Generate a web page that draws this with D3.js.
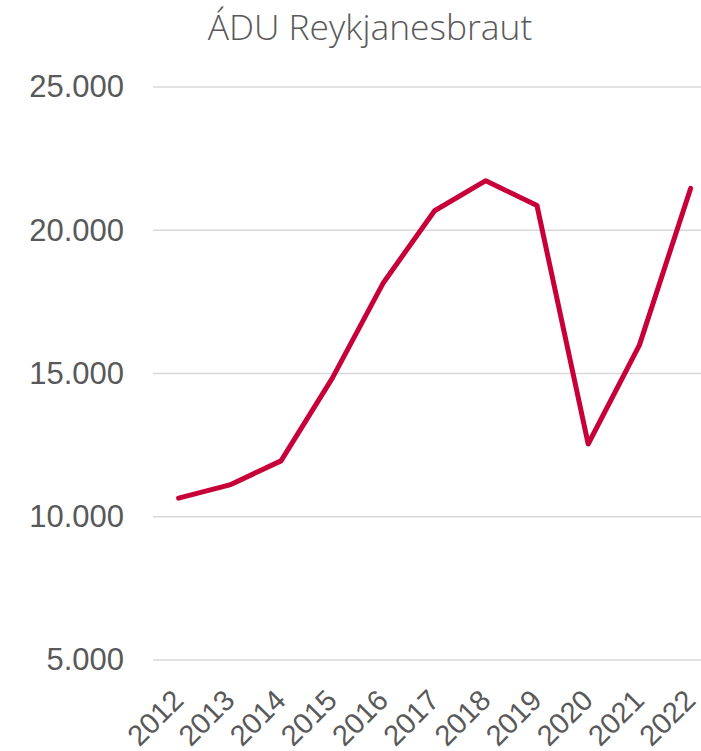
<!DOCTYPE html>
<html lang="is">
<head>
  <meta charset="UTF-8">
  <title>ÁDU Reykjanesbraut</title>
  <script src="https://d3js.org/d3.v7.min.js"></script>
  <style>
    body {
      margin: 0;
      background: #fff;
    }
    .grid line {
      stroke: #d9d9d9;
      stroke-width: 1.5px;
    }
    .axis text {
      font-family: "Liberation Sans", Arial, sans-serif;
      fill: #595959;
    }
    .axis path, .axis line {
      display: none;
    }
  </style>
</head>
<body>
  <div id="chart"></div>

  <script>
    // ÁDU = average daily traffic
    const years = ["2012", "2013", "2014", "2015", "2016", "2017", "2018", "2019", "2020", "2021", "2022"];
    const traffic = [10650, 11110, 11950, 14830, 18170, 20680, 21730, 20860, 12540, 15990, 21460];
    const yTicks = [5000, 10000, 15000, 20000, 25000];
    const chartTitle = "ÁDU Reykjanesbraut";

    const width = 701;
    const height = 751;
    const plotLeft = 153;
    const step = 51.2;
    const plotTop = 87;
    const plotBottom = 660;

    const svg = d3.select("#chart")
      .append("svg")
      .attr("width", width)
      .attr("height", height);

    const x = d3.scalePoint()
      .domain(years)
      .range([plotLeft + step / 2, plotLeft + step * (years.length - 0.5)]);

    const y = d3.scaleLinear()
      .domain([5000, 25000])
      .range([plotBottom, plotTop]);

    // gridlines
    svg.append("g")
      .attr("class", "grid")
      .selectAll("line")
      .data(yTicks)
      .enter()
      .append("line")
      .attr("x1", plotLeft)
      .attr("x2", width)
      .attr("y1", d => y(d))
      .attr("y2", d => y(d));

    // y axis, Icelandic thousands separator
    const fmt = d3.formatLocale({ decimal: ",", thousands: ".", grouping: [3], currency: ["", " kr."] }).format(",.0f");

    svg.append("g")
      .attr("class", "axis")
      .attr("transform", `translate(${plotLeft},0)`)
      .call(d3.axisLeft(y).tickValues(yTicks).tickSize(0).tickPadding(29).tickFormat(fmt))
      .selectAll("text")
      .style("font-size", "31px");

    // x axis with rotated labels
    svg.append("g")
      .attr("class", "axis")
      .attr("transform", `translate(0,${plotBottom})`)
      .call(d3.axisBottom(x).tickSize(0))
      .selectAll("text")
      .style("font-size", "29px")
      .attr("x", 0)
      .attr("y", 0)
      .attr("dy", 0)
      .attr("text-anchor", "end")
      .attr("transform", "translate(6,42) rotate(-45)");

    // line
    const line = d3.line()
      .x((d, i) => x(years[i]))
      .y(d => y(d));

    svg.append("path")
      .datum(traffic)
      .attr("fill", "none")
      .attr("stroke", "#c8003a")
      .attr("stroke-width", 5)
      .attr("stroke-linejoin", "round")
      .attr("stroke-linecap", "round")
      .attr("d", line);

    // title
    const title = svg.append("text")
      .attr("x", 370)
      .attr("y", 40)
      .attr("text-anchor", "middle")
      .style("font-family", "'Open Sans', sans-serif")
      .style("font-weight", 300)
      .style("font-size", "32px")
      .style("fill", "#595959")
      .text(chartTitle);

    // fit title to the width it has in the original (~325px)
    const tw = title.node().getComputedTextLength();
    title.style("font-size", (32 * 325 / tw).toFixed(1) + "px");
  </script>
</body>
</html>
